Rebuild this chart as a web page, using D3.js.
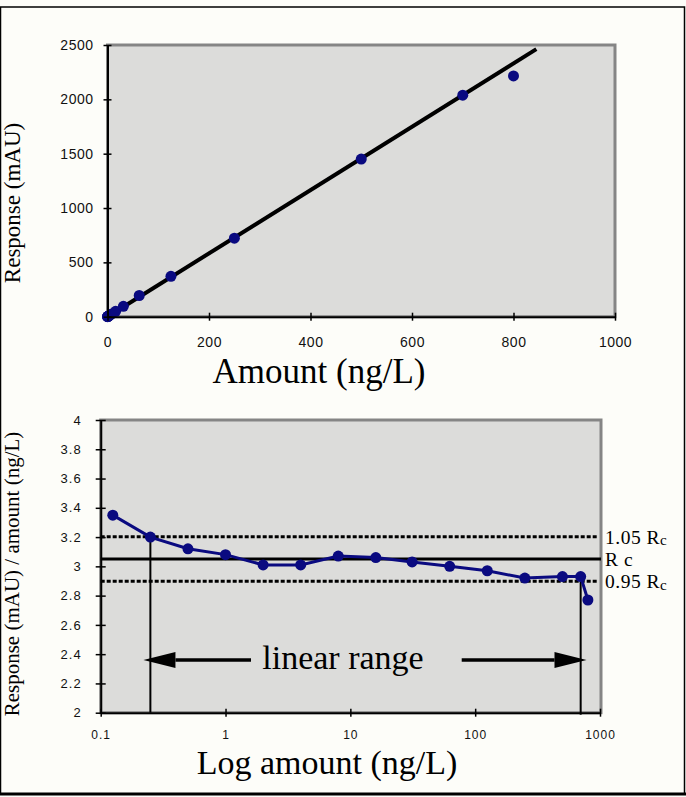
<!DOCTYPE html>
<html lang="en">
  <head>
    <meta charset="UTF-8" />
    <title>Calibration and linear range</title>
    <script src="https://cdn.jsdelivr.net/npm/d3@7"></script>
    <style>
      body { margin: 0; background: #fdfdf9; }
      svg { display: block; }
      .tick text { font-family: "Liberation Sans", Arial, sans-serif; fill: #111; }
      .serif { font-family: "Liberation Serif", "Times New Roman", serif; fill: #000; }
    </style>
  </head>
  <body>
    <div id="chart"></div>
    <script>
      // amounts (ng/L) used in both panels
      let amounts = [0.125, 0.25, 0.5, 1, 2, 4, 8, 16, 31.25, 62.5, 125, 250, 500, 700, 800];
      // top panel: response (mAU)
      let responses = [0.4, 0.8, 1.6, 3, 6, 12, 25, 49, 96, 195, 372, 722, 1450, 2038, 2215];
      // fitted line ends
      let fitAmount = [0, 845];
      let fitResponse = [0, 2462];
      // bottom panel: response / amount
      let ratios = [3.35, 3.2, 3.12, 3.08, 3.01, 3.01, 3.07, 3.06, 3.03, 3.0, 2.97, 2.92, 2.93, 2.93, 2.77];
      let rc = 3.05;
      let rcLevels = [1.05 * rc, rc, 0.95 * rc];
      let rcLabels = ["1.05 R", "R c", "0.95 R"];
      // linear range limits and arrows
      let rangeLow = 0.25, rangeHigh = 700;
      let arrowLevel = 2.36;
      let leftArrow = [1.6, 0.22];
      let rightArrow = [78, 780];

      let topXTicks = [0, 200, 400, 600, 800, 1000];
      let topYTicks = [0, 500, 1000, 1500, 2000, 2500];
      let botXTicks = [0.1, 1, 10, 100, 1000];
      let botYTicks = [2, 2.2, 2.4, 2.6, 2.8, 3, 3.2, 3.4, 3.6, 3.8, 4];

      let W = 686, H = 797;
      let svg = d3.select("#chart").append("svg").attr("width", W).attr("height", H);

      // outer frame
      svg.append("rect").attr("x", 0.5).attr("y", 7).attr("width", 684).attr("height", 787)
        .attr("fill", "#fdfdf9").attr("stroke", "#000").attr("stroke-width", 1.5);
      svg.append("line").attr("x1", 0).attr("x2", 686).attr("y1", 794).attr("y2", 794)
        .attr("stroke", "#000").attr("stroke-width", 3);

      function plotFrame(x0, x1, y0, y1) {
        svg.append("rect").attr("x", x0).attr("y", y0).attr("width", x1 - x0).attr("height", y1 - y0)
          .attr("fill", "#dcdcda").attr("stroke", "#858585").attr("stroke-width", 3);
      }

      // ---------- top panel ----------
      let tx = d3.scaleLinear().domain([0, 1000]).range([107.5, 615]);
      let ty = d3.scaleLinear().domain([0, 2500]).range([316.7, 45]);
      plotFrame(107.5, 615, 45, 316.7);

      let topG = svg.append("g");
      topG.append("line")
        .attr("x1", tx(fitAmount[0])).attr("y1", ty(fitResponse[0]))
        .attr("x2", tx(fitAmount[1])).attr("y2", ty(fitResponse[1]))
        .attr("stroke", "#000").attr("stroke-width", 4);
      topG.selectAll("circle").data(amounts).enter().append("circle")
        .attr("cx", d => tx(d)).attr("cy", (d, i) => ty(responses[i]))
        .attr("r", 5.5).attr("fill", "#0a0a80");

      let txAxis = svg.append("g").attr("transform", "translate(0,316.7)")
        .call(d3.axisBottom(tx).tickValues(topXTicks).tickFormat(d3.format("d"))
          .tickSizeInner(4).tickSizeOuter(0).tickPadding(16));
      let tyAxis = svg.append("g").attr("transform", "translate(107.5,0)")
        .call(d3.axisLeft(ty).tickValues(topYTicks).tickFormat(d3.format("d"))
          .tickSizeInner(4).tickSizeOuter(0).tickPadding(10));
      [txAxis, tyAxis].forEach(a => {
        a.select(".domain").attr("stroke", "#000").attr("stroke-width", 2);
        a.selectAll(".tick line").attr("stroke", "#000").attr("stroke-width", 1.5);
        a.selectAll(".tick text").attr("font-size", 14).attr("letter-spacing", 0.5);
      });
      txAxis.selectAll(".tick line").attr("y1", -4);
      tyAxis.selectAll(".tick line").attr("x1", 4);

      svg.append("text").attr("class", "serif").attr("x", 319).attr("y", 383)
        .attr("text-anchor", "middle").attr("font-size", 35).text("Amount (ng/L)");
      svg.append("text").attr("class", "serif")
        .attr("transform", "translate(20,203) rotate(-90)")
        .attr("text-anchor", "middle").attr("font-size", 23).text("Response (mAU)");

      // ---------- bottom panel ----------
      let bx = d3.scaleLog().domain([0.1, 1000]).range([100.7, 600]);
      let by = d3.scaleLinear().domain([2, 4]).range([712.7, 420]);
      plotFrame(100.7, 601, 420, 712.7);

      let botG = svg.append("g");
      // Rc reference lines
      botG.selectAll("line.rc").data(rcLevels).enter().append("line").attr("class", "rc")
        .attr("x1", 100.7).attr("x2", (d, i) => (i === 1 ? 601 : 597))
        .attr("y1", d => by(d)).attr("y2", d => by(d))
        .attr("stroke", "#000").attr("stroke-width", 3)
        .attr("stroke-dasharray", (d, i) => (i === 1 ? null : "4,2"));

      // vertical limits of the linear range
      botG.append("line").attr("x1", bx(rangeLow)).attr("x2", bx(rangeLow))
        .attr("y1", by(rcLevels[0])).attr("y2", by(2))
        .attr("stroke", "#000").attr("stroke-width", 2);
      botG.append("line").attr("x1", bx(rangeHigh)).attr("x2", bx(rangeHigh))
        .attr("y1", by(rcLevels[2])).attr("y2", by(2) + 2)
        .attr("stroke", "#000").attr("stroke-width", 2);

      // data line + markers
      let ratioLine = d3.line().x(d => bx(d[0])).y(d => by(d[1]));
      botG.append("path").datum(amounts.map((a, i) => [a, ratios[i]]))
        .attr("d", ratioLine).attr("fill", "none").attr("stroke", "#0a0a80").attr("stroke-width", 3);
      botG.selectAll("circle").data(amounts).enter().append("circle")
        .attr("cx", d => bx(d)).attr("cy", (d, i) => by(ratios[i]))
        .attr("r", 5.5).attr("fill", "#0a0a80");

      // arrows
      function arrow(from, to) {
        let x0 = bx(from), x1 = bx(to), y = by(arrowLevel);
        let dir = x1 > x0 ? 1 : -1;
        let headLen = 32;
        botG.append("line").attr("x1", x0).attr("x2", x1 - dir * headLen)
          .attr("y1", y).attr("y2", y).attr("stroke", "#000").attr("stroke-width", 3.5);
        botG.append("path")
          .attr("d", `M${x1},${y}L${x1 - dir * headLen},${y - 8}L${x1 - dir * headLen},${y + 8}Z`)
          .attr("fill", "#000");
      }
      arrow(leftArrow[0], leftArrow[1]);
      arrow(rightArrow[0], rightArrow[1]);

      svg.append("text").attr("class", "serif").attr("x", 343).attr("y", 669)
        .attr("text-anchor", "middle").attr("font-size", 34).text("linear range");

      // Rc labels
      let lab = svg.selectAll("text.rcl").data(rcLevels).enter().append("text")
        .attr("class", "serif rcl").attr("x", 605).attr("y", d => by(d) + 7)
        .attr("font-size", 19.5).attr("letter-spacing", 0.5).text((d, i) => rcLabels[i]);
      lab.filter((d, i) => i !== 1).append("tspan")
        .attr("font-size", 15).attr("dy", 1.5).text("c");

      let bxAxis = svg.append("g").attr("transform", "translate(0,712.7)")
        .call(d3.axisBottom(bx).tickValues(botXTicks).tickFormat(d3.format("~g"))
          .tickSizeInner(4).tickSizeOuter(0).tickPadding(14));
      let byAxis = svg.append("g").attr("transform", "translate(100.7,0)")
        .call(d3.axisLeft(by).tickValues(botYTicks).tickFormat(d3.format("~g"))
          .tickSizeInner(5).tickSizeOuter(0).tickPadding(14));
      [bxAxis, byAxis].forEach(a => {
        a.select(".domain").attr("stroke", "#000").attr("stroke-width", 2);
        a.selectAll(".tick line").attr("stroke", "#000").attr("stroke-width", 1.5);
        a.selectAll(".tick text").attr("font-size", 13).attr("letter-spacing", 1);
      });
      bxAxis.selectAll(".tick text").attr("font-size", 12);
      bxAxis.selectAll(".tick line").attr("y1", -4);
      byAxis.selectAll(".tick line").attr("x1", 5);

      svg.append("text").attr("class", "serif").attr("x", 327).attr("y", 774)
        .attr("text-anchor", "middle").attr("font-size", 34).text("Log amount (ng/L)");
      svg.append("text").attr("class", "serif")
        .attr("transform", "translate(19,574) rotate(-90)")
        .attr("text-anchor", "middle").attr("font-size", 21).text("Response (mAU) / amount (ng/L)");
    </script>
  </body>
</html>
